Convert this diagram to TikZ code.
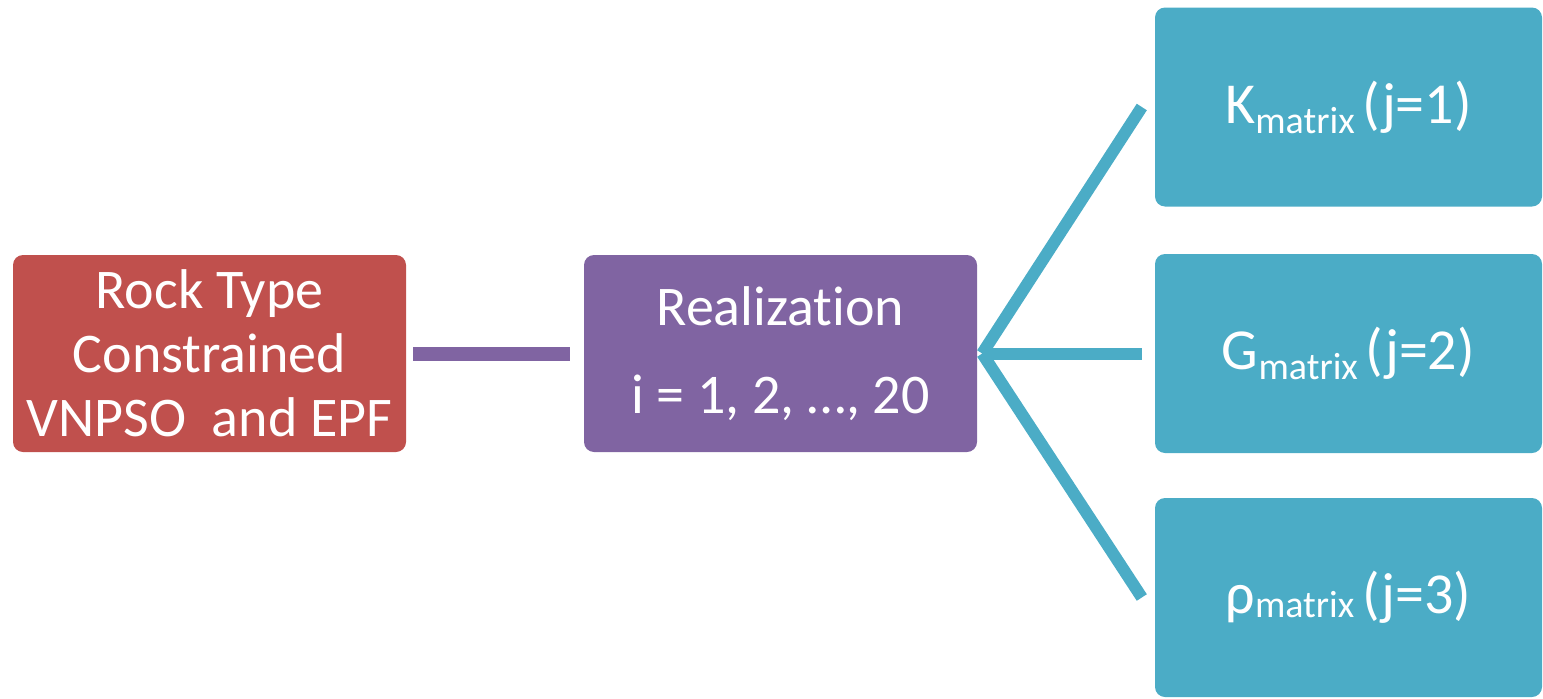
\documentclass[tikz,border=0pt]{standalone}
\usepackage{fontspec}
\setmainfont[Ligatures=NoCommon]{Carlito}
\definecolor{rockred}{HTML}{C0504D}
\definecolor{realpurple}{HTML}{8064A2}
\definecolor{matteal}{HTML}{4BACC6}
\newcommand\mtxsub[2]{\raisebox{#1}{\fontsize{38}{40}\selectfont #2}}
\begin{document}
\begin{tikzpicture}[x=1pt,y=-1pt,
  box/.style={rounded corners=10pt, inner sep=0pt, text=white, align=center,
    font=\fontsize{56}{64}\selectfont},
  leftbox/.style={box, minimum width=393pt, minimum height=197pt},
  tealbox/.style={box, fill=matteal, minimum width=387pt, minimum height=199pt,
    font=\fontsize{58}{64}\selectfont},
  purpleline/.style={draw=realpurple, line width=14pt},
  tealline/.style={draw=matteal, line width=12pt}]
\useasboundingbox (0,0) rectangle (1543,699);
\node[leftbox, fill=rockred] (rock) at (209.5,353.5)
  {Rock Type\\Constrained\\VNPSO\ \ and EPF};
\node[leftbox, fill=realpurple] (real) at (780.5,353.5)
  {Realizat\kern0pt ion\\[24pt]i = 1, 2, …, 20};
\node[tealbox] (k) at (1348.5,107) {K\mtxsub{-10pt}{matrix}\hspace{8pt}(j=1)};
\node[tealbox] (g) at (1348.5,353.5) {G\mtxsub{-10pt}{matrix}\hspace{8pt}(j=2)};
\node[tealbox] (rho) at (1348.5,597.5) {\raisebox{-12pt}{ρ\mtxsub{-4pt}{matrix}\hspace{8pt}(j=3)}};
\coordinate (hub) at ([xshift=5pt]real.east);
\draw[purpleline] ([xshift=7pt]rock.east) -- ([xshift=-14pt]real.west);
\draw[tealline] (hub) -- ([xshift=-13pt]k.west);
\draw[tealline] (hub) -- ([xshift=-13pt]g.west);
\draw[tealline] (hub) -- ([xshift=-13pt]rho.west);
\end{tikzpicture}
\end{document}
